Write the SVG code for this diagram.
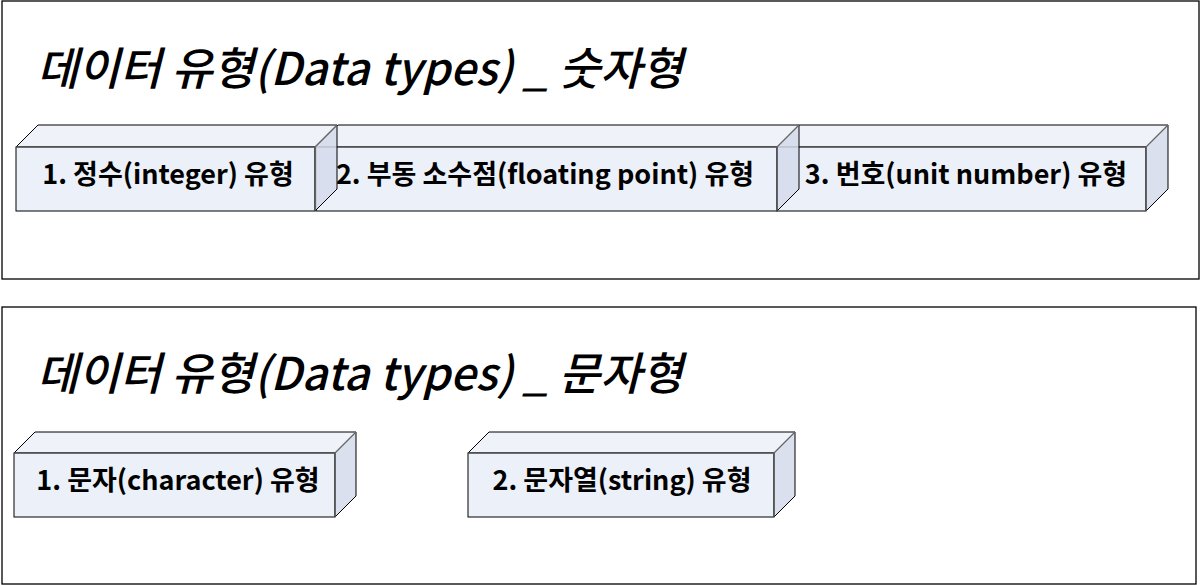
<svg xmlns="http://www.w3.org/2000/svg" width="1200" height="585" viewBox="0 0 1200 585">
<style>
.frame{fill:#fff;stroke:#000;stroke-width:1.3}
.top{fill:#EFF2F9;stroke:#000;stroke-width:1}
.front{fill:#ECF0F8;stroke:#000;stroke-width:1}
.side{fill:#D5DBEB;fill-opacity:0.85;stroke:#000;stroke-width:1}
.inner{stroke:#666;stroke-width:1.2;fill:none}
.lbl{font-family:"Noto Sans CJK KR","Malgun Gothic",sans-serif;font-weight:bold;font-size:27px;fill:#000;text-anchor:middle}
.title{font-family:"Noto Sans CJK KR","Malgun Gothic",sans-serif;font-style:italic;font-weight:500;font-size:45px;fill:#000}
</style>
<rect class="frame" x="2" y="1" width="1197" height="278"/>
<rect class="frame" x="2" y="307" width="1194" height="277"/>
<text class="title" x="37" y="85">데이터 유형(Data types) _ 숫자형</text>
<text class="title" x="37" y="390">데이터 유형(Data types) _ 문자형</text>
<g id="connectors"></g>
<g id="box3">
<polygon class="top" points="777,147 799,125 1168,125 1146,147"/>
<rect class="front" x="777" y="147" width="369" height="64"/>
<polygon class="side" points="1146,147 1168,125 1168,189 1146,211"/>
<line class="inner" x1="777" y1="147" x2="1146" y2="147"/>
<line class="inner" x1="1146" y1="147" x2="1146" y2="211"/>
<line class="inner" x1="1146" y1="147" x2="1168" y2="125"/>
<text class="lbl" x="966" y="184">3. 번호(unit number) 유형</text>
</g>
<g id="box2">
<polygon class="top" points="316,147 338,125 799,125 777,147"/>
<rect class="front" x="316" y="147" width="461" height="64"/>
<polygon class="side" points="777,147 799,125 799,189 777,211"/>
<line class="inner" x1="316" y1="147" x2="777" y2="147"/>
<line class="inner" x1="777" y1="147" x2="777" y2="211"/>
<line class="inner" x1="777" y1="147" x2="799" y2="125"/>
<text class="lbl" x="545" y="184">2. 부동 소수점(floating point) 유형</text>
</g>
<g id="box1">
<polygon class="top" points="16,147 38,125 337,125 315,147"/>
<rect class="front" x="16" y="147" width="299" height="64"/>
<polygon class="side" points="315,147 337,125 337,189 315,211"/>
<line class="inner" x1="16" y1="147" x2="315" y2="147"/>
<line class="inner" x1="315" y1="147" x2="315" y2="211"/>
<line class="inner" x1="315" y1="147" x2="337" y2="125"/>
<text class="lbl" x="168" y="184">1. 정수(integer) 유형</text>
</g>
<g id="box4">
<polygon class="top" points="14,453 35,432 356,432 335,453"/>
<rect class="front" x="14" y="453" width="321" height="64"/>
<polygon class="side" points="335,453 356,432 356,496 335,517"/>
<line class="inner" x1="14" y1="453" x2="335" y2="453"/>
<line class="inner" x1="335" y1="453" x2="335" y2="517"/>
<line class="inner" x1="335" y1="453" x2="356" y2="432"/>
<text class="lbl" x="178" y="490">1. 문자(character) 유형</text>
</g>
<g id="box5">
<polygon class="top" points="468,453 489,432 795,432 774,453"/>
<rect class="front" x="468" y="453" width="306" height="64"/>
<polygon class="side" points="774,453 795,432 795,496 774,517"/>
<line class="inner" x1="468" y1="453" x2="774" y2="453"/>
<line class="inner" x1="774" y1="453" x2="774" y2="517"/>
<line class="inner" x1="774" y1="453" x2="795" y2="432"/>
<text class="lbl" x="622" y="490">2. 문자열(string) 유형</text>
</g>
</svg>
